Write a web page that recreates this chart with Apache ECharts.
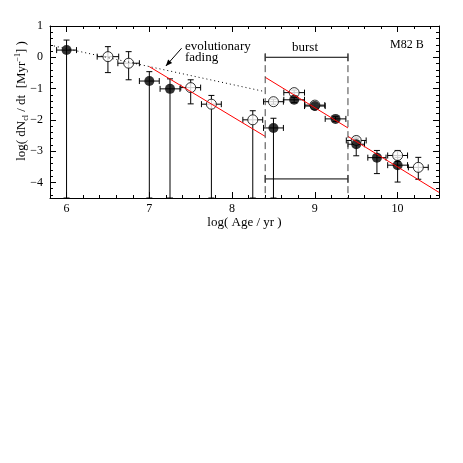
<!DOCTYPE html>
<html>
<head>
<meta charset="utf-8">
<script src="https://cdn.jsdelivr.net/npm/echarts@6/dist/echarts.min.js"></script>
<style>
  html, body { margin: 0; padding: 0; background: #fff; }
  #main { width: 463px; height: 463px; }
</style>
</head>
<body>
<div id="main"></div>
<script>
// tick labels
var xMajor = [6, 7, 8, 9, 10];
var yMajor = [1, 0, -1, -2, -3, -4];
var xMinor = [];
for (var i = 29; i <= 52; i++) xMinor.push(i / 5);
var yMinor = [];
for (var j = -22; j <= 5; j++) yMinor.push(j / 5);

var yBottom = -4.5;

// filled clusters: x, y, x half-width, y upper, y lower (lower = yBottom -> limit)
var filledX   = [6, 7, 7.25, 8.5, 8.75, 9, 9.25, 9.5, 9.75, 10];
var filledY   = [0.23, -0.76, -1.01, -2.26, -1.36, -1.56, -1.97, -2.78, -3.21, -3.45];
var filledXe  = [0.12, 0.12, 0.12, 0.12, 0.125, 0.125, 0.125, 0.1, 0.11, 0.12];
var filledYhi = [0.55, -0.46, -0.69, -1.95, -1.28, -1.48, -1.9, -2.6, -2.98, -3.2];
var filledYlo = [yBottom, yBottom, yBottom, yBottom, -1.45, -1.65, -2.05, -3.15, -3.72, -3.99];

// open clusters
var openX   = [6.5, 6.75, 7.5, 7.75, 8.25, 8.5, 8.75, 9, 9.5, 10, 10.25];
var openY   = [0.02, -0.19, -0.97, -1.5, -2.0, -1.42, -1.13, -1.53, -2.66, -3.14, -3.52];
var openXe  = [0.13, 0.13, 0.12, 0.12, 0.12, 0.12, 0.125, 0.12, 0.12, 0.12, 0.12];
var openYhi = [0.34, 0.18, -0.72, -1.22, -1.71, -1.34, -1.05, -1.47, -2.55, -2.98, -3.2];
var openYlo = [-0.49, -0.72, -1.49, yBottom, yBottom, -1.5, -1.22, -1.6, -2.78, -3.33, -3.9];

// model lines
var red1 = [[7, -0.3], [8.4, -2.53]];
var red2 = [[8.4, -0.64], [9.4, -2.26]];
var red3 = [[9.4, -2.53], [10.5, -4.32]];
var fading = [[5.8, 0.39], [8.4, -1.1]];
var burstEdges = [8.4, 9.4];
var burstBars = [0, -3.89];   // y of horizontal range bars
var arrow = [[7.39, 0.29, 7.2, -0.28]];

function pack(xs, ys, xe, hi, lo) {
    var out = [];
    for (var k = 0; k < xs.length; k++) out.push([xs[k], ys[k], xe[k], hi[k], lo[k]]);
    return out;
}
function pts(xs, ys) {
    var out = [];
    for (var k = 0; k < xs.length; k++) out.push([xs[k], ys[k]]);
    return out;
}

function errRender(params, api) {
    var x = api.value(0), y = api.value(1), xe = api.value(2), hi = api.value(3), lo = api.value(4);
    var l = api.coord([x - xe, y]), r = api.coord([x + xe, y]);
    var t = api.coord([x, hi]), b = api.coord([x, lo]);
    var st = { stroke: '#000', lineWidth: 1 };
    var c = 3;
    return {
        type: 'group',
        children: [
            { type: 'line', shape: { x1: l[0], y1: l[1], x2: r[0], y2: r[1] }, style: st },
            { type: 'line', shape: { x1: l[0], y1: l[1] - c, x2: l[0], y2: l[1] + c }, style: st },
            { type: 'line', shape: { x1: r[0], y1: r[1] - c, x2: r[0], y2: r[1] + c }, style: st },
            { type: 'line', shape: { x1: t[0], y1: t[1], x2: b[0], y2: b[1] }, style: st },
            { type: 'line', shape: { x1: t[0] - c, y1: t[1], x2: t[0] + c, y2: t[1] }, style: st },
            { type: 'line', shape: { x1: b[0] - c, y1: b[1], x2: b[0] + c, y2: b[1] }, style: st }
        ]
    };
}

var font = 'Liberation Serif';

function xAxisDef(pos, ticks, len, showLine, labels) {
    return {
        type: 'value', position: pos, min: 5.8, max: 10.5,
        axisLine: { show: showLine, onZero: false, lineStyle: { color: '#000', width: 1 } },
        axisTick: { show: true, inside: true, length: len, customValues: ticks, lineStyle: { color: '#000' } },
        axisLabel: labels ? { show: true, customValues: ticks, color: '#000', fontFamily: font, fontSize: 12, margin: 5 } : { show: false },
        splitLine: { show: false }
    };
}
function yAxisDef(pos, ticks, len, showLine, labels) {
    return {
        type: 'value', position: pos, min: -4.5, max: 1,
        axisLine: { show: showLine, onZero: false, lineStyle: { color: '#000', width: 1 } },
        axisTick: { show: true, inside: true, length: len, customValues: ticks, lineStyle: { color: '#000' } },
        axisLabel: labels ? {
            show: true, customValues: ticks, color: '#000', fontFamily: font, fontSize: 12, margin: 7,
            formatter: function (v) { return v < 0 ? '\u2212' + Math.abs(v) : String(v); }
        } : { show: false },
        splitLine: { show: false }
    };
}

var xAxes = [
    xAxisDef('bottom', xMajor, 6, true, true),
    xAxisDef('bottom', xMinor, 3, false, false),
    xAxisDef('top', xMajor, 6, true, false),
    xAxisDef('top', xMinor, 3, false, false)
];
xAxes[0].name = 'log( Age / yr )';
xAxes[0].nameLocation = 'middle';
xAxes[0].nameGap = 18;
xAxes[0].nameTextStyle = { color: '#000', fontFamily: font, fontSize: 13 };

var yAxes = [
    yAxisDef('left', yMajor, 6, true, true),
    yAxisDef('left', yMinor, 3, false, false),
    yAxisDef('right', yMajor, 6, true, false),
    yAxisDef('right', yMinor, 3, false, false)
];

function seg(data, color, type, width) {
    return {
        type: 'line', data: data, symbol: 'none', silent: true, z: 4,
        lineStyle: { color: color, type: type, width: width }
    };
}

var series = [
    seg(fading, '#000', [1, 3], 1),
    seg(red1, '#ff0000', 'solid', 1),
    seg(red2, '#ff0000', 'solid', 1),
    seg(red3, '#ff0000', 'solid', 1),
    seg([[burstEdges[0], 0.1], [burstEdges[0], yBottom]], '#444', [7, 4], 1),
    seg([[burstEdges[1], 0.1], [burstEdges[1], yBottom]], '#444', [7, 4], 1),
    {
        type: 'custom', silent: true, z: 2,
        data: burstBars.map(function (y) { return [burstEdges[0], burstEdges[1], y]; }),
        renderItem: function (params, api) {
            var a = api.coord([api.value(0), api.value(2)]), b = api.coord([api.value(1), api.value(2)]);
            var st = { stroke: '#000', lineWidth: 1 };
            return { type: 'group', children: [
                { type: 'line', shape: { x1: a[0], y1: a[1], x2: b[0], y2: b[1] }, style: st },
                { type: 'line', shape: { x1: a[0], y1: a[1] - 4, x2: a[0], y2: a[1] + 4 }, style: st },
                { type: 'line', shape: { x1: b[0], y1: b[1] - 4, x2: b[0], y2: b[1] + 4 }, style: st }
            ] };
        }
    },
    {
        type: 'custom', silent: true, z: 2,
        data: arrow,
        renderItem: function (params, api) {
            var a = api.coord([api.value(0), api.value(1)]), b = api.coord([api.value(2), api.value(3)]);
            var ang = Math.atan2(b[1] - a[1], b[0] - a[0]), h = 7, w = 0.4;
            var p1 = [b[0] - h * Math.cos(ang - w), b[1] - h * Math.sin(ang - w)];
            var p2 = [b[0] - h * Math.cos(ang + w), b[1] - h * Math.sin(ang + w)];
            return { type: 'group', children: [
                { type: 'line', shape: { x1: a[0], y1: a[1], x2: b[0], y2: b[1] }, style: { stroke: '#000', lineWidth: 1 } },
                { type: 'polygon', shape: { points: [b, p1, p2] }, style: { fill: '#000' } }
            ] };
        }
    },
    { type: 'custom', silent: true, z: 2, data: pack(filledX, filledY, filledXe, filledYhi, filledYlo), renderItem: errRender },
    { type: 'custom', silent: true, z: 2, data: pack(openX, openY, openXe, openYhi, openYlo), renderItem: errRender },
    {
        type: 'scatter', data: pts(openX, openY), symbol: 'circle', symbolSize: 10, z: 3, silent: true,
        itemStyle: { color: '#fff', borderColor: '#000', borderWidth: 1 }
    },
    {
        type: 'scatter', data: pts(filledX, filledY), symbol: 'circle', symbolSize: 10, z: 3, silent: true,
        itemStyle: { color: '#000' }
    }
];

var myChart = echarts.init(document.getElementById('main'), null, { renderer: 'canvas' });
var option = {
    backgroundColor: '#fff',
    animation: false,
    grid: { left: 50, right: 24, top: 26, bottom: 265, outerBoundsMode: 'none', containLabel: false },
    xAxis: xAxes,
    yAxis: yAxes,
    graphic: [
        {
            type: 'text', x: 22, y: 101, rotation: Math.PI / 2,
            style: {
                text: '{a|log( dN}{s|cl}{a| / dt  [Myr}{p|\u22121}{a|] )}',
                align: 'center', verticalAlign: 'middle',
                rich: {
                    a: { fontFamily: font, fontSize: 13, fill: '#000', lineHeight: 16, verticalAlign: 'middle' },
                    s: { fontFamily: font, fontSize: 8, fill: '#000', lineHeight: 16, verticalAlign: 'bottom' },
                    p: { fontFamily: font, fontSize: 8, fill: '#000', lineHeight: 16, verticalAlign: 'top' }
                }
            }
        },
        { type: 'text', left: 390, top: 39, style: { text: 'M82 B', fontFamily: font, fontSize: 12, fill: '#000' } },
        { type: 'text', left: 292, top: 41, style: { text: 'burst', fontFamily: font, fontSize: 13, fill: '#000' } },
        { type: 'text', left: 185, top: 40, style: { text: 'evolutionary\nfading', fontFamily: font, fontSize: 13, lineHeight: 11, fill: '#000' } }
    ],
    series: series
};
myChart.setOption(option);
</script>
</body>
</html>
